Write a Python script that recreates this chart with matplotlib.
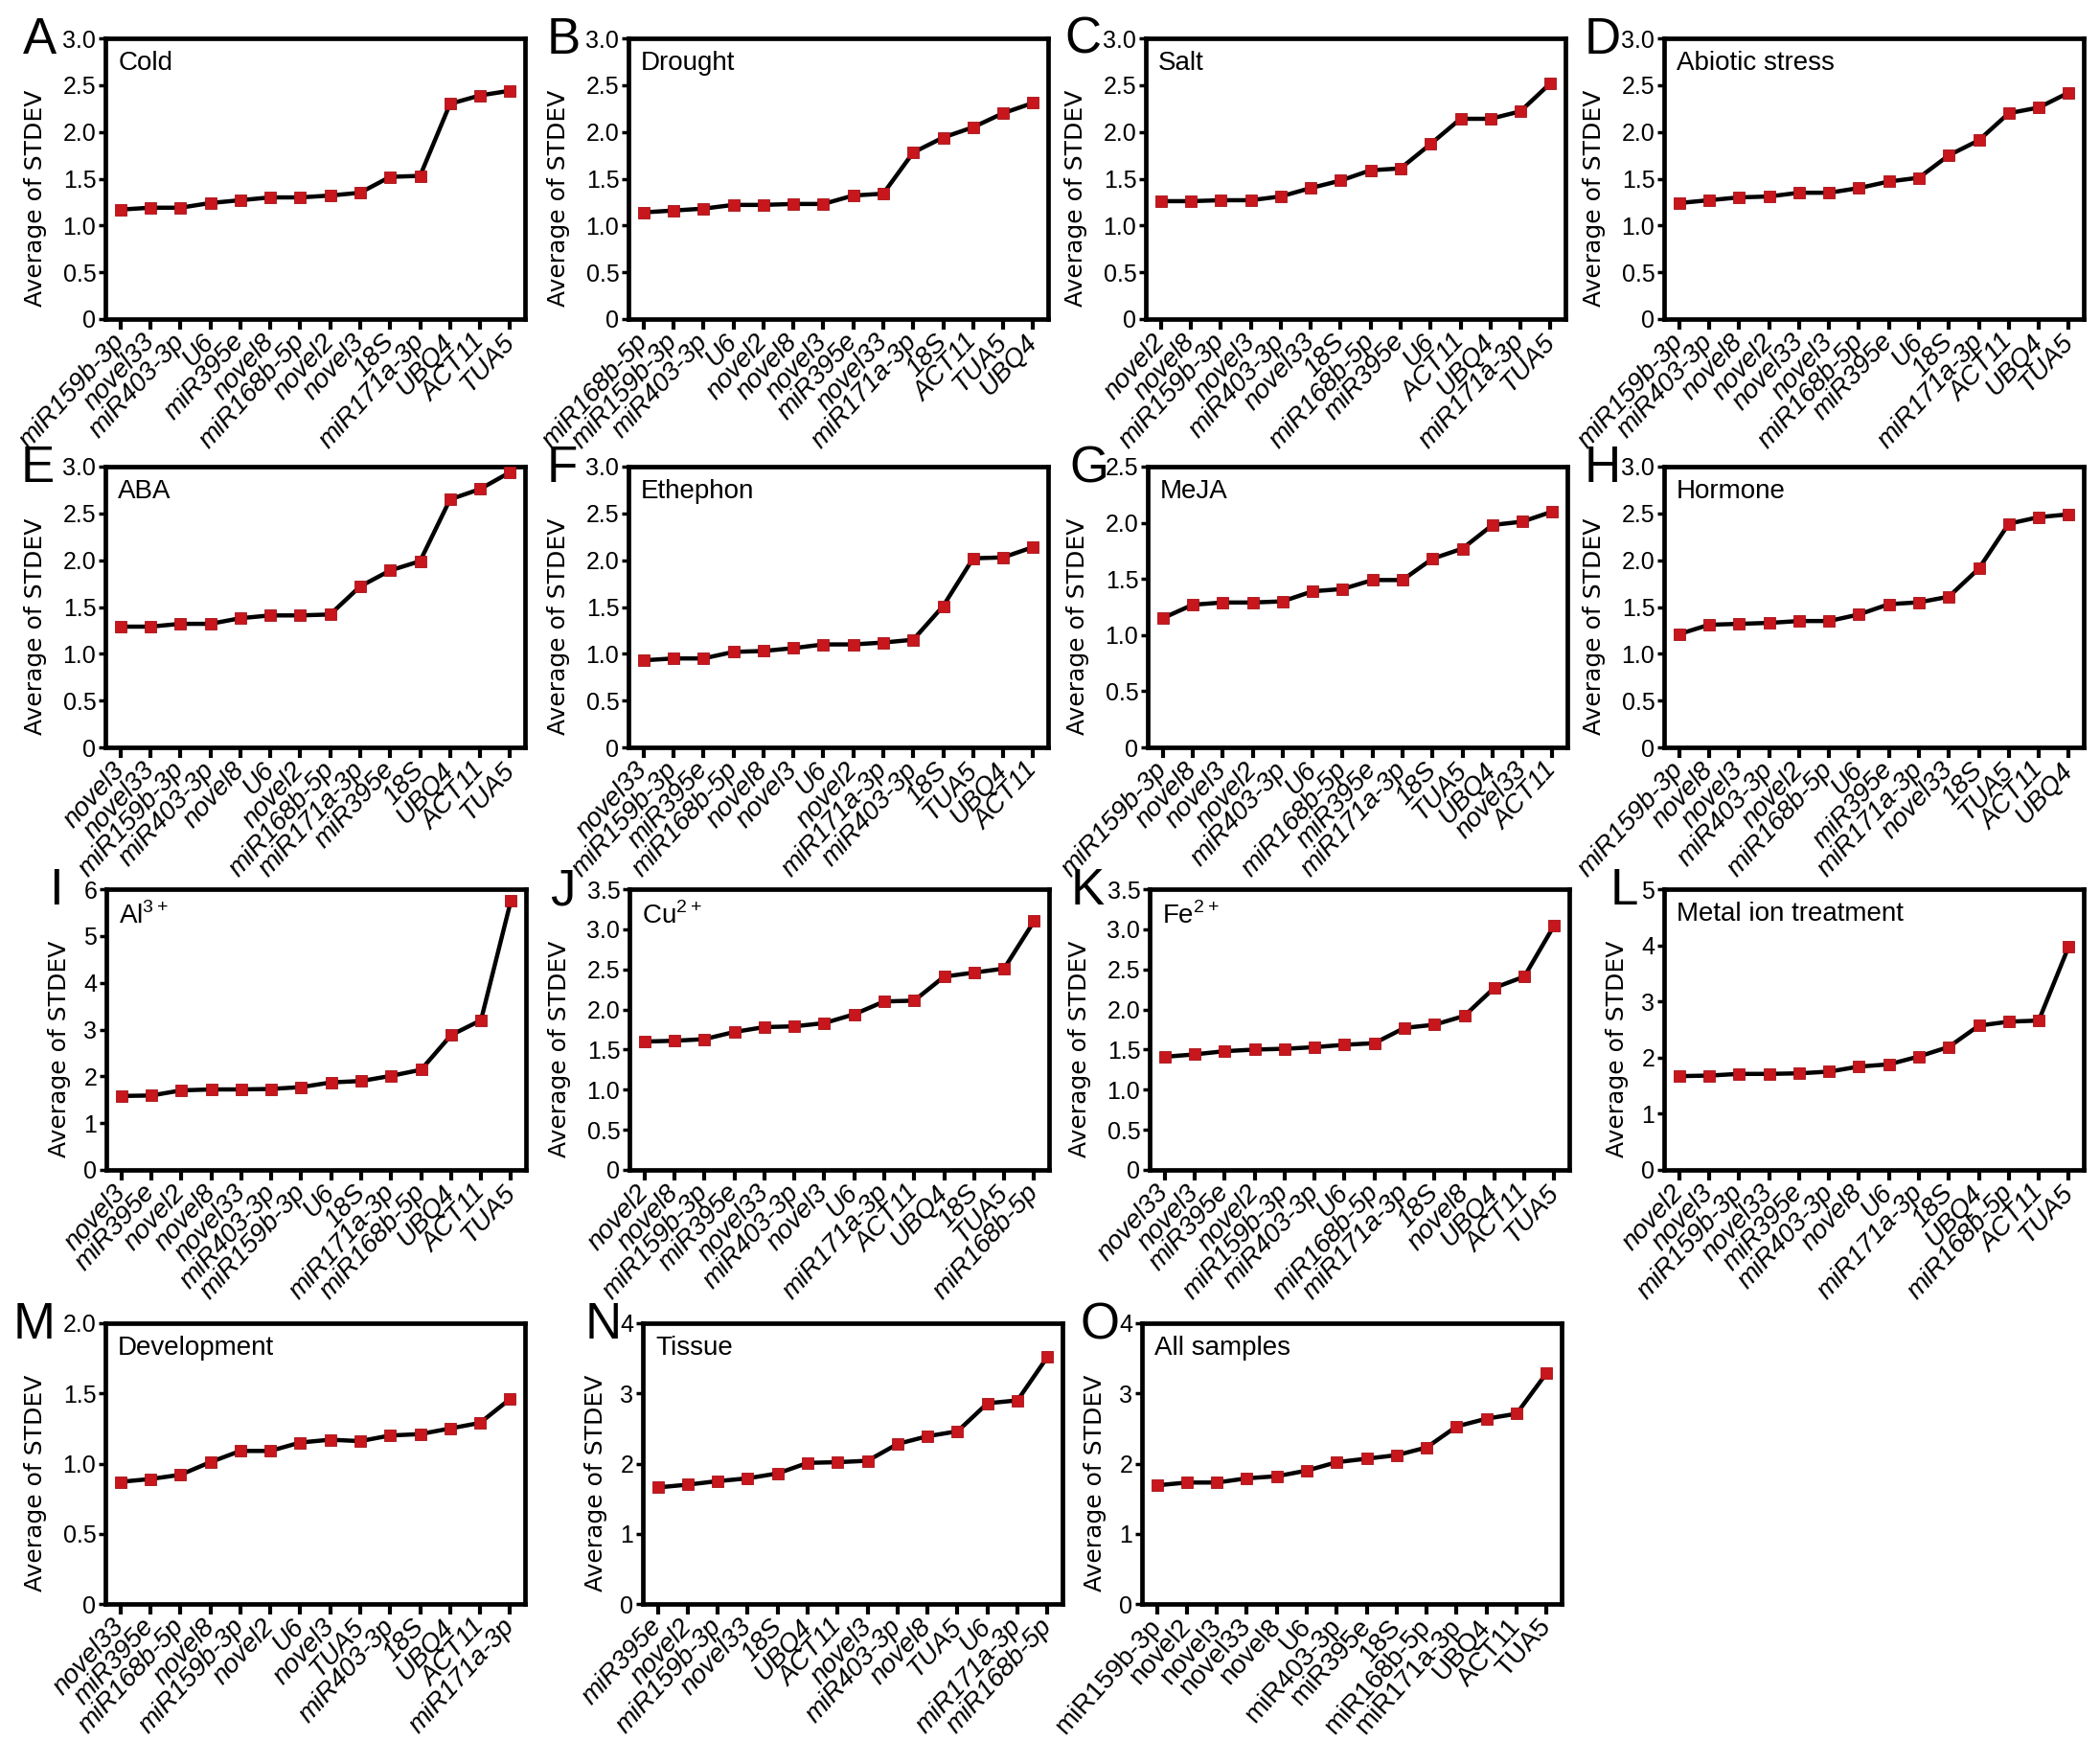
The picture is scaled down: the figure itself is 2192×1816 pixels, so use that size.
import matplotlib
matplotlib.use('Agg')
import matplotlib.pyplot as plt
from matplotlib.ticker import MultipleLocator, FuncFormatter

## DADOS
cold_genes = ['miR159b-3p', 'novel33', 'miR403-3p', 'U6', 'miR395e', 'novel8', 'miR168b-5p',
              'novel2', 'novel3', '18S', 'miR171a-3p', 'UBQ4', 'ACT11', 'TUA5']
cold_vals = [1.17, 1.19, 1.19, 1.24, 1.27, 1.30, 1.30, 1.32, 1.35, 1.52, 1.53, 2.30, 2.39, 2.44]

drought_genes = ['miR168b-5p', 'miR159b-3p', 'miR403-3p', 'U6', 'novel2', 'novel8', 'novel3',
                 'miR395e', 'novel33', 'miR171a-3p', '18S', 'ACT11', 'TUA5', 'UBQ4']
drought_vals = [1.14, 1.16, 1.18, 1.22, 1.22, 1.23, 1.23, 1.32, 1.34, 1.78, 1.94, 2.05, 2.20, 2.31]

salt_genes = ['novel2', 'novel8', 'miR159b-3p', 'novel3', 'miR403-3p', 'novel33', '18S',
              'miR168b-5p', 'miR395e', 'U6', 'ACT11', 'UBQ4', 'miR171a-3p', 'TUA5']
salt_vals = [1.26, 1.26, 1.27, 1.27, 1.31, 1.40, 1.48, 1.59, 1.61, 1.87, 2.14, 2.14, 2.22, 2.52]

abiotic_genes = ['miR159b-3p', 'miR403-3p', 'novel8', 'novel2', 'novel33', 'novel3', 'miR168b-5p',
                 'miR395e', 'U6', '18S', 'miR171a-3p', 'ACT11', 'UBQ4', 'TUA5']
abiotic_vals = [1.24, 1.27, 1.30, 1.31, 1.35, 1.35, 1.40, 1.47, 1.51, 1.75, 1.91, 2.20, 2.26, 2.42]

aba_genes = ['novel3', 'novel33', 'miR159b-3p', 'miR403-3p', 'novel8', 'U6', 'novel2',
             'miR168b-5p', 'miR171a-3p', 'miR395e', '18S', 'UBQ4', 'ACT11', 'TUA5']
aba_vals = [1.29, 1.29, 1.32, 1.32, 1.38, 1.41, 1.41, 1.42, 1.72, 1.89, 1.99, 2.65, 2.76, 2.94]

ethephon_genes = ['novel33', 'miR159b-3p', 'miR395e', 'miR168b-5p', 'novel8', 'novel3', 'U6',
                  'novel2', 'miR171a-3p', 'miR403-3p', '18S', 'TUA5', 'UBQ4', 'ACT11']
ethephon_vals = [0.93, 0.95, 0.95, 1.02, 1.03, 1.06, 1.10, 1.10, 1.12, 1.15, 1.51, 2.02, 2.03, 2.14]

meja_genes = ['miR159b-3p', 'novel8', 'novel3', 'novel2', 'miR403-3p', 'U6', 'miR168b-5p',
              'miR395e', 'miR171a-3p', '18S', 'TUA5', 'UBQ4', 'novel33', 'ACT11']
meja_vals = [1.15, 1.27, 1.29, 1.29, 1.30, 1.39, 1.41, 1.49, 1.49, 1.68, 1.77, 1.98, 2.01, 2.10]

hormone_genes = ['miR159b-3p', 'novel8', 'novel3', 'miR403-3p', 'novel2', 'miR168b-5p', 'U6',
                 'miR395e', 'miR171a-3p', 'novel33', '18S', 'TUA5', 'ACT11', 'UBQ4']
hormone_vals = [1.21, 1.31, 1.32, 1.33, 1.35, 1.35, 1.42, 1.53, 1.55, 1.61, 1.91, 2.39, 2.46, 2.49]

al_genes = ['novel3', 'miR395e', 'novel2', 'novel8', 'novel33', 'miR403-3p', 'miR159b-3p',
            'U6', '18S', 'miR171a-3p', 'miR168b-5p', 'UBQ4', 'ACT11', 'TUA5']
al_vals = [1.58, 1.59, 1.70, 1.72, 1.72, 1.73, 1.77, 1.87, 1.90, 2.01, 2.14, 2.88, 3.20, 5.76]

cu_genes = ['novel2', 'novel8', 'miR159b-3p', 'miR395e', 'novel33', 'miR403-3p', 'novel3',
            'U6', 'miR171a-3p', 'ACT11', 'UBQ4', '18S', 'TUA5', 'miR168b-5p']
cu_vals = [1.60, 1.61, 1.63, 1.72, 1.78, 1.79, 1.83, 1.94, 2.10, 2.11, 2.41, 2.46, 2.51, 3.10]

fe_genes = ['novel33', 'novel3', 'miR395e', 'novel2', 'miR159b-3p', 'miR403-3p', 'U6',
            'miR168b-5p', 'miR171a-3p', '18S', 'novel8', 'UBQ4', 'ACT11', 'TUA5']
fe_vals = [1.41, 1.44, 1.48, 1.50, 1.51, 1.53, 1.56, 1.58, 1.77, 1.81, 1.92, 2.27, 2.41, 3.05]

metal_genes = ['novel2', 'novel3', 'miR159b-3p', 'novel33', 'miR395e', 'miR403-3p', 'novel8',
               'U6', 'miR171a-3p', '18S', 'UBQ4', 'miR168b-5p', 'ACT11', 'TUA5']
metal_vals = [1.67, 1.68, 1.71, 1.71, 1.72, 1.75, 1.84, 1.88, 2.02, 2.19, 2.57, 2.64, 2.66, 3.98]

dev_genes = ['novel33', 'miR395e', 'miR168b-5p', 'novel8', 'miR159b-3p', 'novel2', 'U6',
             'novel3', 'TUA5', 'miR403-3p', '18S', 'UBQ4', 'ACT11', 'miR171a-3p']
dev_vals = [0.87, 0.89, 0.92, 1.01, 1.09, 1.09, 1.15, 1.17, 1.16, 1.20, 1.21, 1.25, 1.29, 1.46]

tissue_genes = ['miR395e', 'novel2', 'miR159b-3p', 'novel33', '18S', 'UBQ4', 'ACT11', 'novel3',
                'miR403-3p', 'novel8', 'TUA5', 'U6', 'miR171a-3p', 'miR168b-5p']
tissue_vals = [1.66, 1.70, 1.75, 1.79, 1.86, 2.01, 2.02, 2.04, 2.28, 2.39, 2.46, 2.86, 2.90, 3.52]

all_genes = ['miR159b-3p', 'novel2', 'novel3', 'novel33', 'novel8', 'U6', 'miR403-3p',
             'miR395e', '18S', 'miR168b-5p', 'miR171a-3p', 'UBQ4', 'ACT11', 'TUA5']
all_vals = [1.69, 1.73, 1.73, 1.79, 1.82, 1.90, 2.02, 2.07, 2.12, 2.23, 2.53, 2.64, 2.71, 3.29]

letters = list('ABCDEFGHIJKLMNO')
titles = ['Cold', 'Drought', 'Salt', 'Abiotic stress', 'ABA', 'Ethephon', 'MeJA', 'Hormone',
          'Al$^{\\mathregular{3+}}$', 'Cu$^{\\mathregular{2+}}$', 'Fe$^{\\mathregular{2+}}$',
          'Metal ion treatment', 'Development', 'Tissue', 'All samples']
genes = [cold_genes, drought_genes, salt_genes, abiotic_genes, aba_genes, ethephon_genes,
         meja_genes, hormone_genes, al_genes, cu_genes, fe_genes, metal_genes,
         dev_genes, tissue_genes, all_genes]
values = [cold_vals, drought_vals, salt_vals, abiotic_vals, aba_vals, ethephon_vals,
          meja_vals, hormone_vals, al_vals, cu_vals, fe_vals, metal_vals,
          dev_vals, tissue_vals, all_vals]
y_max = [3.0, 3.0, 3.0, 3.0, 3.0, 3.0, 2.5, 3.0, 6, 3.5, 3.5, 5, 2.0, 4, 4]
y_step = [0.5, 0.5, 0.5, 0.5, 0.5, 0.5, 0.5, 0.5, 1, 0.5, 0.5, 1, 0.5, 1, 1]

### LAYOUT (pixels)
FIG_W, FIG_H = 2192, 1816
AX_W, AX_H = 438, 293
posicoes = [(110, 40), (656, 40), (1196, 40), (1737, 40),
            (110, 487), (656, 487), (1198, 487), (1737, 487),
            (111, 928), (657, 928), (1200, 928), (1737, 928),
            (110, 1381), (671, 1381), (1192, 1381)]
letra_dx = [-86, -85, -85, -83, -88, -85, -82, -83, -60, -83, -82, -56, -96, -60, -64]

plt.rcParams['font.family'] = 'Liberation Sans'
plt.rcParams['mathtext.fontset'] = 'custom'
plt.rcParams['mathtext.rm'] = 'Liberation Sans'

fig = plt.figure(figsize=(FIG_W / 100, FIG_H / 100), dpi=100)
fig.patch.set_facecolor('white')


def fmt(step):
    def f(v, pos):
        if abs(v) < 1e-9:
            return '0'
        return '%.1f' % v if step < 1 else '%d' % round(v)
    return FuncFormatter(f)


for i in range(15):
    left, top = posicoes[i]
    ax = fig.add_axes([left / FIG_W, 1 - (top + AX_H) / FIG_H, AX_W / FIG_W, AX_H / FIG_H])
    x = list(range(len(values[i])))
    ax.plot(x, values[i], color='black', lw=3.2, zorder=2)
    ax.plot(x, values[i], ls='none', marker='s', ms=9, mfc='#c8161d', mec='#a50f15',
            mew=0.6, zorder=3)
    ax.set_xlim(-0.5, len(x) - 0.5)
    ax.set_ylim(0, y_max[i])
    ax.yaxis.set_major_locator(MultipleLocator(y_step[i]))
    ax.yaxis.set_major_formatter(fmt(y_step[i]))
    ax.set_xticks(x)
    estilo = 'normal' if i == 14 else 'italic'
    ax.set_xticklabels(genes[i], rotation=48, ha='right', va='center',
                       rotation_mode='anchor', fontsize=20, style=estilo)
    ax.tick_params(axis='x', direction='out', length=8, width=3, pad=6)
    ax.tick_params(axis='y', direction='out', length=5, width=2.5, pad=2, labelsize=18)
    for lado in ['top', 'bottom', 'left', 'right']:
        ax.spines[lado].set_linewidth(3.4)
    ax.set_ylabel('Average of STDEV', family='DejaVu Sans', fontsize=18)
    # rótulos inteiros são mais estreitos -> título do eixo mais perto
    ax.yaxis.set_label_coords(-0.14 if y_step[i] < 1 else -0.085, 0.43)
    ax.text(0.03, 0.955, titles[i], transform=ax.transAxes, fontsize=20,
            ha='left', va='top')
    fig.text((left + letra_dx[i]) / FIG_W, 1 - (top + 16) / FIG_H, letters[i],
             fontsize=38, ha='left', va='baseline')

fig.savefig('out.png', dpi=100, facecolor='white')
